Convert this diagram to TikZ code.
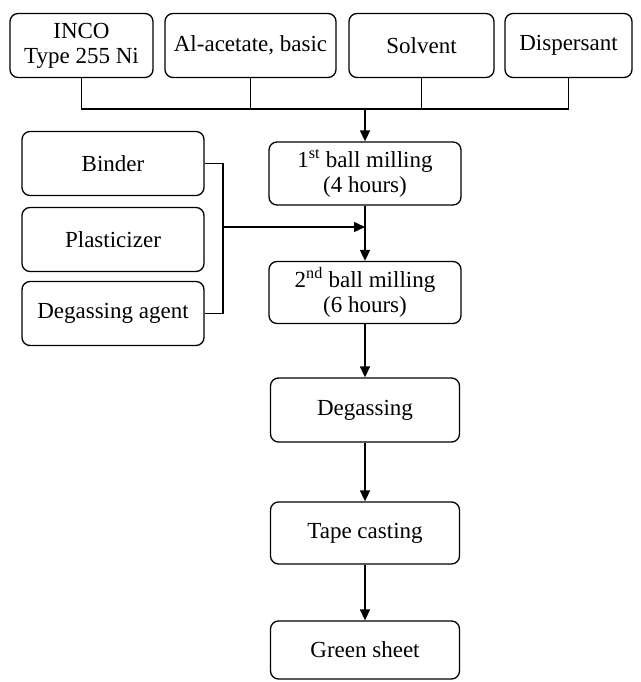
\documentclass[tikz,border=0pt]{standalone}
\usepackage{fontspec}
\setmainfont{Liberation Serif}
\usetikzlibrary{arrows.meta,positioning,calc}
\tikzset{
  stage/.style={draw, rounded corners=8pt, line width=1.3pt, align=center, inner sep=0pt,
    minimum height=64pt, font=\fontsize{23}{25}\selectfont},
  link/.style={line width=1.5pt},
  flow/.style={line width=1.5pt, -{Triangle[length=11pt,width=10pt]}}
}
\begin{document}
\begin{tikzpicture}[x=1pt,y=-1pt]
  \useasboundingbox (0,0) rectangle (640,682);
  \node[stage, minimum width=143pt] (inco) at (81.5,45.5) {INCO\\Type 255 Ni};
  \node[stage, minimum width=171pt] (alac) at (250.5,45.5) {Al-acetate, basic};
  \node[stage, minimum width=145pt] (solv) at (421.5,45.5) {Solvent};
  \node[stage, minimum width=127pt] (disp) at (568.5,45.5) {Dispersant};
  \node[stage, minimum width=182pt] (binder) at (113,163.5) {Binder};
  \node[stage, minimum width=182pt] (plast) at (113,239.5) {Plasticizer};
  \node[stage, minimum width=182pt] (degag) at (113,313.5) {Degassing agent};
  \node[stage, minimum width=192pt, minimum height=63pt] (mill1) at (365,173.5) {1\textsuperscript{st} ball milling\\(4 hours)};
  \node[stage, minimum width=192pt, minimum height=62pt] (mill2) at (365,292.5) {2\textsuperscript{nd} ball milling\\(6 hours)};
  \node[stage, minimum width=189pt] (degas) at (365,410) {Degassing};
  \node[stage, minimum width=189pt, minimum height=62pt] (tape) at (365,533) {Tape casting};
  \node[stage, minimum width=189pt, minimum height=58pt] (green) at (365,650) {Green sheet};
  \coordinate (tbus) at (365,109);
  \coordinate (lbus) at (223,227);
  \draw[link] (inco.south) |- (tbus) -| (disp.south);
  \draw[link] (alac.south) -- (alac.south |- tbus);
  \draw[link] (solv.south) -- (solv.south |- tbus);
  \draw[flow] (tbus) -- (mill1);
  \draw[link] (binder.east) -| (lbus) |- (degag.east);
  \draw[flow] (lbus) -- (lbus -| mill1.south);
  \draw[flow] (mill1) -- (mill2);
  \draw[flow] (mill2) -- (degas);
  \draw[flow] (degas) -- (tape);
  \draw[flow] (tape) -- (green);
\end{tikzpicture}
\end{document}
